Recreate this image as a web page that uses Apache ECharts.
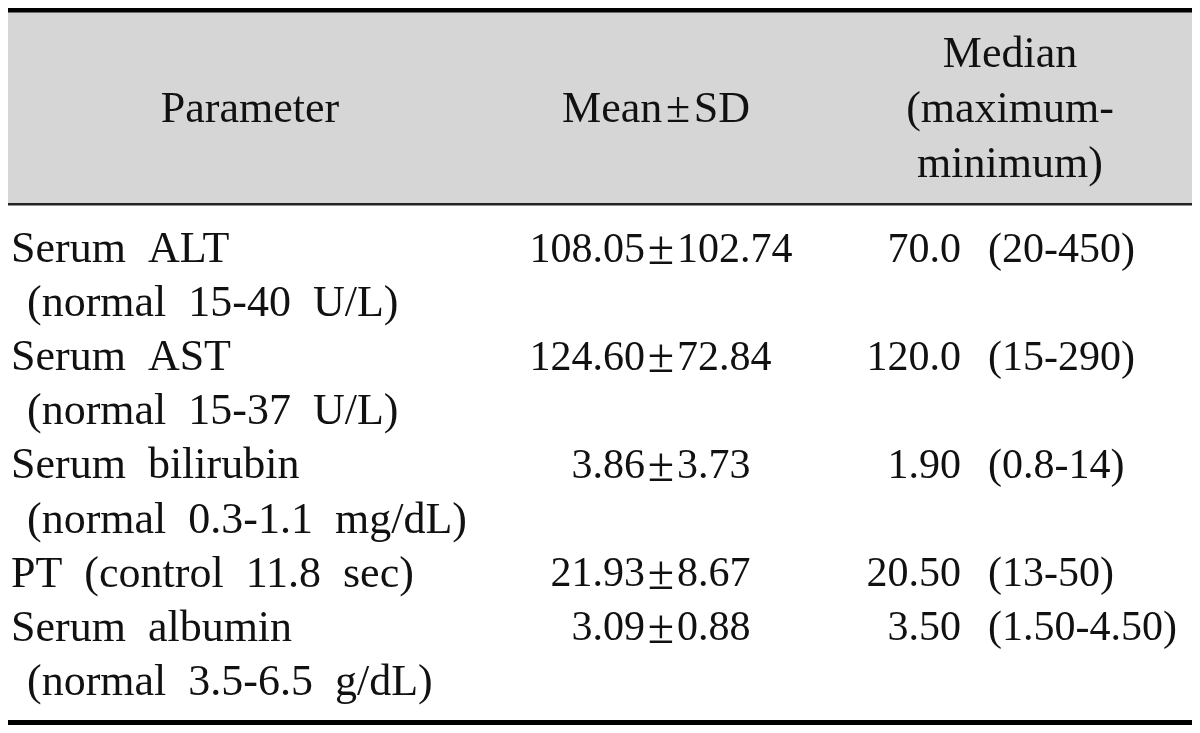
<!DOCTYPE html>
<html>
<head>
<meta charset="utf-8">
<script src="https://cdn.jsdelivr.net/npm/echarts@6/dist/echarts.min.js"></script>
<style>
  html, body { margin: 0; padding: 0; background: #ffffff; }
  #chart { width: 1200px; height: 733px; }
</style>
</head>
<body>
<div id="chart"></div>
<script>
// ---- table content ----
const headerLines = [["Parameter"], ["Mean\u00b1SD"], ["Median", "(maximum-", "minimum)"]];
const paramLines = [
  ["Serum ALT", "(normal 15-40 U/L)"],
  ["Serum AST", "(normal 15-37 U/L)"],
  ["Serum bilirubin", "(normal 0.3-1.1 mg/dL)"],
  ["PT (control 11.8 sec)"],
  ["Serum albumin", "(normal 3.5-6.5 g/dL)"]
];
const meanValues = ["108.05", "124.60", "3.86", "21.93", "3.09"];
const sdValues = ["102.74", "72.84", "3.73", "8.67", "0.88"];
const medianValues = ["70.0", "120.0", "1.90", "20.50", "3.50"];
const rangeValues = ["20-450", "15-290", "0.8-14", "13-50", "1.50-4.50"];

// ---- layout ----
const W = 1200, H = 733;
const FONT = '"Liberation Serif", "Times New Roman", serif';
const FS_TEXT = 44, FS_NUM = 42, FS_PM = 48;
const headerCenters = [250, 656, 1010];
const headerLineY = [55.5, 110.5, 165];
const bodyY0 = 250.5, bodyStep = 54.1;
const xParam = 11, xIndent = 27;
const xMeanRight = 645, xPm = 661, xSdLeft = 677;
const xMedianRight = 961, xRangeLeft = 988;
const wide = s => s.replace(/ /g, '\u2002');
const pmSpaced = s => s.replace(/\u00b1/g, '\u200a\u00b1\u200a');

const texts = [];   // [x, y, text, align, fontSize]
headerLines.forEach((lines, c) => {
  const n = lines.length;
  lines.forEach((t, k) => {
    const y = n === 1 ? headerLineY[1] : headerLineY[k];
    texts.push([headerCenters[c], y, pmSpaced(t), 'center', FS_TEXT]);
  });
});
let line = 0;
paramLines.forEach((lines, r) => {
  const y = bodyY0 + bodyStep * line;
  lines.forEach((t, k) => {
    texts.push([k === 0 ? xParam : xIndent, bodyY0 + bodyStep * (line + k), wide(t), 'left', FS_TEXT]);
  });
  texts.push([xMeanRight, y, meanValues[r], 'right', FS_NUM]);
  texts.push([xPm, y + 1, '\u00b1', 'center', FS_PM]);
  texts.push([xSdLeft, y, sdValues[r], 'left', FS_NUM]);
  texts.push([xMedianRight, y, medianValues[r], 'right', FS_NUM]);
  texts.push([xRangeLeft, y, '(' + rangeValues[r] + ')', 'left', FS_NUM]);
  line += lines.length;
});

const chart = echarts.init(document.getElementById('chart'), null, { renderer: 'canvas' });
chart.setOption({
  animation: false,
  backgroundColor: '#ffffff',
  grid: { left: 0, right: 0, top: 0, bottom: 0 },
  xAxis: { type: 'value', min: 0, max: W, show: false },
  yAxis: { type: 'value', min: 0, max: H, inverse: true, show: false },
  graphic: [
    { type: 'rect', shape: { x: 8, y: 12, width: 1184, height: 191 }, style: { fill: '#d6d6d6' }, z: -10 },
    { type: 'rect', shape: { x: 8, y: 8, width: 1184, height: 4.5 }, style: { fill: '#000000' } },
    { type: 'rect', shape: { x: 8, y: 203, width: 1184, height: 2.5 }, style: { fill: '#222222' } },
    { type: 'rect', shape: { x: 8, y: 720, width: 1184, height: 5 }, style: { fill: '#000000' } }
  ],
  series: [{
    type: 'custom',
    silent: true,
    data: texts.map(t => [t[0], t[1]]),
    encode: { x: 0, y: 1 },
    renderItem: function (params, api) {
      const d = texts[params.dataIndex];
      const p = api.coord([api.value(0), api.value(1)]);
      return {
        type: 'text',
        x: p[0],
        y: p[1],
        style: {
          text: d[2],
          align: d[3],
          verticalAlign: 'middle',
          fill: '#111111',
          font: d[4] + 'px ' + FONT
        }
      };
    }
  }]
});
</script>
</body>
</html>
